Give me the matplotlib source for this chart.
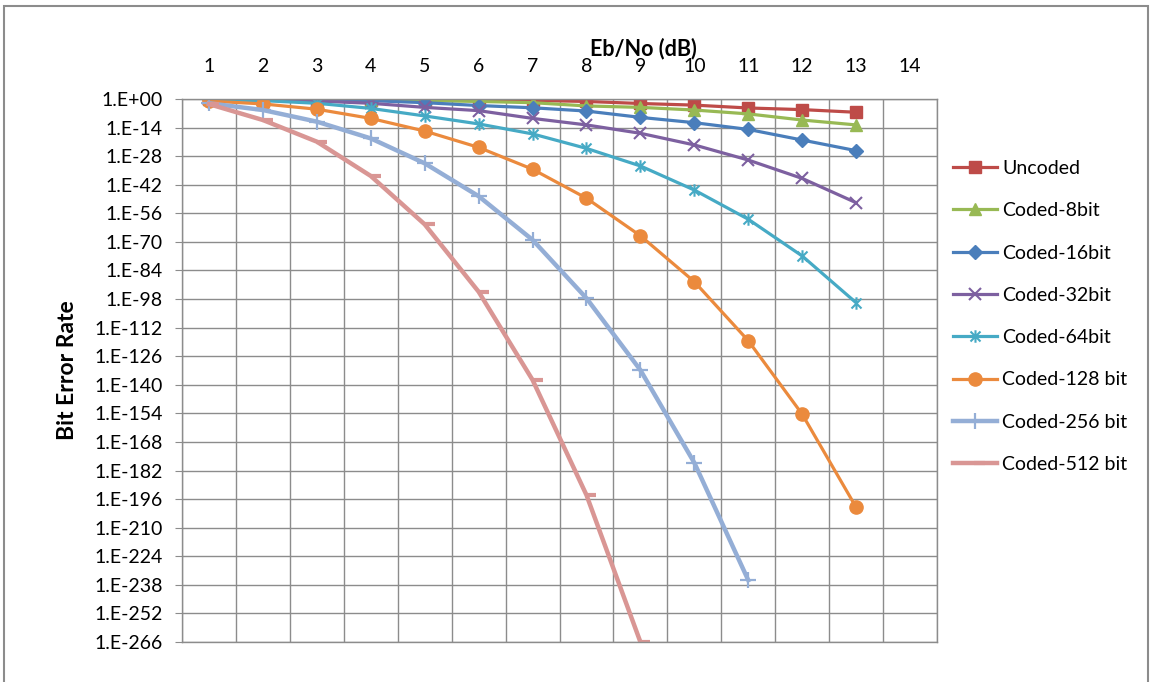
import numpy as np
import matplotlib
matplotlib.use("Agg")
import matplotlib.pyplot as plt
from matplotlib.path import Path
from matplotlib.patches import Rectangle

plt.rcParams['font.family'] = ['Lato', 'DejaVu Sans']

# Eb/No categories and log10(BER)
ebno_labels = [str(k) for k in range(1, 15)]
x_uncoded = [1, 2, 3, 4, 5, 6, 7, 8, 9, 10, 11, 12, 13]
uncoded = [-0.1, -0.15, -0.2, -0.3, -0.4, -0.5, -0.7, -1.2, -2.2, -3.0, -4.4, -5.2, -6.5]
coded_8 = [-0.1, -0.2, -0.3, -0.5, -0.8, -1.2, -1.8, -3.4, -4.1, -5.4, -7.3, -10.3, -12.7]
coded_16 = [-0.1, -0.3, -0.5, -0.8, -1.8, -3.2, -4.3, -5.9, -9.0, -11.6, -14.9, -20.1, -25.3]
coded_32 = [-0.1, -0.5, -1.0, -2.1, -4.1, -5.7, -9.5, -12.7, -16.8, -22.5, -29.9, -38.9, -50.8]
coded_64 = [-0.2, -0.8, -2.1, -4.6, -8.3, -12.2, -17.1, -24.2, -32.8, -44.6, -58.9, -76.9, -99.8]
coded_128 = [-1.0, -2.4, -5.0, -9.5, -15.7, -23.7, -34.4, -48.6, -67.0, -89.5, -118.4, -154.4, -200.0]
x_256 = [1, 2, 3, 4, 5, 6, 7, 8, 9, 10, 11]
coded_256 = [-2.1, -5.4, -11.1, -19.3, -31.5, -47.6, -69.0, -97.6, -132.8, -178.2, -235.7]
x_512 = [1, 2, 3, 4, 5, 6, 7, 8, 9]
coded_512 = [-2.5, -10.3, -20.9, -37.7, -61.4, -94.4, -137.6, -194.0, -266.0]

ytick_exp = list(range(0, -267, -14))
ytick_labels = ['1.E+00'] + ['1.E-%02d' % (-e) for e in ytick_exp[1:]]

# Excel style markers
star_marker = Path([(0, -1), (0, 1), (-0.8, -0.8), (0.8, 0.8), (-0.8, 0.8), (0.8, -0.8)],
                   [Path.MOVETO, Path.LINETO, Path.MOVETO, Path.LINETO, Path.MOVETO, Path.LINETO])
dash_marker = Path([(-0.1, 0), (1, 0)], [Path.MOVETO, Path.LINETO])

series = [
    ('Uncoded', x_uncoded, uncoded, '#BE4B48', 's', 8, 1.0, 2.3),
    ('Coded-8bit', x_uncoded, coded_8, '#98B954', '^', 8.5, 1.0, 2.3),
    ('Coded-16bit', x_uncoded, coded_16, '#4A7EBB', 'D', 7.3, 1.0, 2.3),
    ('Coded-32bit', x_uncoded, coded_32, '#7D60A0', 'x', 9, 1.5, 2.3),
    ('Coded-64bit', x_uncoded, coded_64, '#46AAC5', star_marker, 9, 1.5, 2.3),
    ('Coded-128 bit', x_uncoded, coded_128, '#EB8A3D', 'o', 9.5, 1.0, 2.3),
    ('Coded-256 bit', x_256, coded_256, '#94AED6', '+', 11, 1.6, 3.2),
    ('Coded-512 bit', x_512, coded_512, '#D99694', dash_marker, 14, 3.0, 3.2),
]

fig = plt.figure(figsize=(11.5, 6.82), dpi=100)
ax = fig.add_axes([182 / 1150, 1 - 642 / 682, 755 / 1150, 543 / 682])

for name, xs, ys, col, mk, ms, mew, lw in series:
    ax.plot(xs, np.power(10.0, ys), color=col, lw=lw, marker=mk, ms=ms,
            mfc=col, mec=col, mew=mew, label=name, solid_joinstyle='round')

grid_col = '#8C8C8C'
ax.set_yscale('log')
ax.set_ylim(1e-266, 1)
ax.set_yticks([10.0 ** e for e in ytick_exp])
ax.set_yticklabels(ytick_labels)
ax.yaxis.set_minor_locator(matplotlib.ticker.NullLocator())
ax.set_xlim(0.5, 14.5)
ax.set_xticks(range(1, 15))
ax.set_xticklabels(ebno_labels)
ax.set_xticks(np.arange(0.5, 14.6, 1.0), minor=True)

ax.grid(True, which='major', axis='y', color=grid_col, lw=1.0)
ax.grid(True, which='minor', axis='x', color=grid_col, lw=1.0)
ax.set_axisbelow(True)
for sp in ax.spines.values():
    sp.set_color(grid_col)
    sp.set_linewidth(1.0)

ax.tick_params(axis='x', which='both', top=True, bottom=False, labeltop=True,
               labelbottom=False, length=0, pad=17, labelsize=14)
ax.tick_params(axis='y', which='major', left=True, right=False, length=5,
               color=grid_col, pad=9, labelsize=14)

ax.set_xlabel('Eb/No (dB)', fontsize=15.5, fontweight='bold')
ax.xaxis.set_label_position('top')
ax.xaxis.set_label_coords(0.611, 1.081)
ax.set_ylabel('Bit Error Rate', fontsize=16.5, fontweight='bold')
ax.yaxis.set_label_coords(-0.138, 0.5)

fig.legend(loc='upper left', bbox_to_anchor=(953 / 1150, 1 - 160 / 682),
           frameon=False, fontsize=14, handlelength=2.27, handletextpad=0.26,
           labelspacing=1.3, borderpad=0, borderaxespad=0, markerscale=1.0)

# outer chart frame
fig.patches.append(Rectangle((4 / 1150, -0.02), 1144 / 1150, 1 - 6 / 682 + 0.02,
                             transform=fig.transFigure, fill=False,
                             edgecolor='#8C8C8C', lw=1.5))

fig.savefig('out.png', dpi=100)
